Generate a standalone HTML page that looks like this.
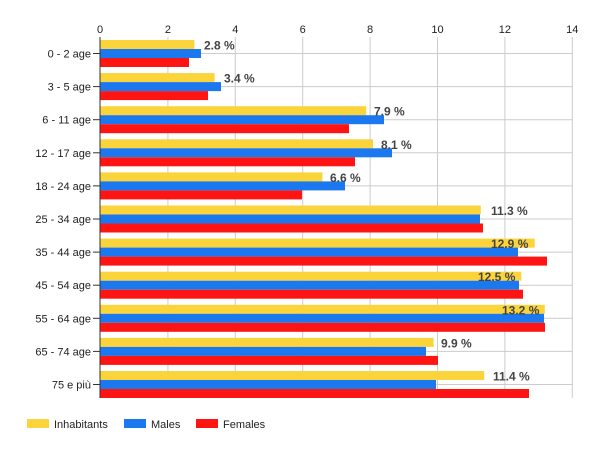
<!DOCTYPE html>
<html><head><meta charset="utf-8"><style>
html,body{margin:0;padding:0;background:#fff;}
svg{display:block;font-family:"Liberation Sans",Arial,sans-serif;}
</style></head><body>
<svg width="600" height="450" viewBox="0 0 600 450">
<g stroke="#cccccc" stroke-width="1">
<line x1="167.9" y1="37" x2="167.9" y2="398"/>
<line x1="235.3" y1="37" x2="235.3" y2="398"/>
<line x1="302.7" y1="37" x2="302.7" y2="398"/>
<line x1="370.1" y1="37" x2="370.1" y2="398"/>
<line x1="437.5" y1="37" x2="437.5" y2="398"/>
<line x1="504.9" y1="37" x2="504.9" y2="398"/>
<line x1="572.3" y1="37" x2="572.3" y2="398"/>
<line x1="100" y1="53.5" x2="572" y2="53.5"/>
<line x1="100" y1="86.6" x2="572" y2="86.6"/>
<line x1="100" y1="119.7" x2="572" y2="119.7"/>
<line x1="100" y1="152.8" x2="572" y2="152.8"/>
<line x1="100" y1="185.9" x2="572" y2="185.9"/>
<line x1="100" y1="219" x2="572" y2="219"/>
<line x1="100" y1="252.1" x2="572" y2="252.1"/>
<line x1="100" y1="285.2" x2="572" y2="285.2"/>
<line x1="100" y1="318.3" x2="572" y2="318.3"/>
<line x1="100" y1="351.4" x2="572" y2="351.4"/>
<line x1="100" y1="384.5" x2="572" y2="384.5"/>
</g>
<g>
<!-- y = cy-13.5, cy-4.5, cy+4.5 -->
<rect x="100" y="40" width="94.4" height="9" fill="#fbd33a"/><rect x="100" y="49" width="101" height="9" fill="#1b78ee"/><rect x="100" y="58" width="89" height="9" fill="#ff1414"/>
<rect x="100" y="73.1" width="114.6" height="9" fill="#fbd33a"/><rect x="100" y="82.1" width="121" height="9" fill="#1b78ee"/><rect x="100" y="91.1" width="108" height="9" fill="#ff1414"/>
<rect x="100" y="106.2" width="266.2" height="9" fill="#fbd33a"/><rect x="100" y="115.2" width="284" height="9" fill="#1b78ee"/><rect x="100" y="124.2" width="249" height="9" fill="#ff1414"/>
<rect x="100" y="139.3" width="273" height="9" fill="#fbd33a"/><rect x="100" y="148.3" width="292" height="9" fill="#1b78ee"/><rect x="100" y="157.3" width="255" height="9" fill="#ff1414"/>
<rect x="100" y="172.4" width="222.4" height="9" fill="#fbd33a"/><rect x="100" y="181.4" width="245" height="9" fill="#1b78ee"/><rect x="100" y="190.4" width="202" height="9" fill="#ff1414"/>
<rect x="100" y="205.5" width="380.8" height="9" fill="#fbd33a"/><rect x="100" y="214.5" width="380" height="9" fill="#1b78ee"/><rect x="100" y="223.5" width="383" height="9" fill="#ff1414"/>
<rect x="100" y="238.6" width="434.7" height="9" fill="#fbd33a"/><rect x="100" y="247.6" width="418" height="9" fill="#1b78ee"/><rect x="100" y="256.6" width="447" height="9" fill="#ff1414"/>
<rect x="100" y="271.7" width="421.3" height="9" fill="#fbd33a"/><rect x="100" y="280.7" width="419" height="9" fill="#1b78ee"/><rect x="100" y="289.7" width="423" height="9" fill="#ff1414"/>
<rect x="100" y="304.8" width="444.8" height="9" fill="#fbd33a"/><rect x="100" y="313.8" width="444" height="9" fill="#1b78ee"/><rect x="100" y="322.8" width="445" height="9" fill="#ff1414"/>
<rect x="100" y="337.9" width="333.6" height="9" fill="#fbd33a"/><rect x="100" y="346.9" width="326" height="9" fill="#1b78ee"/><rect x="100" y="355.9" width="338" height="9" fill="#ff1414"/>
<rect x="100" y="371" width="384.2" height="9" fill="#fbd33a"/><rect x="100" y="380" width="336" height="9" fill="#1b78ee"/><rect x="100" y="389" width="429" height="9" fill="#ff1414"/>
</g>
<line x1="100" y1="37" x2="100" y2="398" stroke="#333" stroke-width="1"/>
<g stroke="#333" stroke-width="1">
<line x1="93" y1="53.5" x2="100" y2="53.5"/><line x1="93" y1="86.6" x2="100" y2="86.6"/><line x1="93" y1="119.7" x2="100" y2="119.7"/><line x1="93" y1="152.8" x2="100" y2="152.8"/><line x1="93" y1="185.9" x2="100" y2="185.9"/><line x1="93" y1="219" x2="100" y2="219"/><line x1="93" y1="252.1" x2="100" y2="252.1"/><line x1="93" y1="285.2" x2="100" y2="285.2"/><line x1="93" y1="318.3" x2="100" y2="318.3"/><line x1="93" y1="351.4" x2="100" y2="351.4"/><line x1="93" y1="384.5" x2="100" y2="384.5"/>
</g>
<g font-size="11" fill="#222" text-anchor="end">
<text x="91" y="57.5">0 - 2 age</text><text x="91" y="90.6">3 - 5 age</text><text x="91" y="123.7">6 - 11 age</text><text x="91" y="156.8">12 - 17 age</text><text x="91" y="189.9">18 - 24 age</text><text x="91" y="223">25 - 34 age</text><text x="91" y="256.1">35 - 44 age</text><text x="91" y="289.2">45 - 54 age</text><text x="91" y="322.3">55 - 64 age</text><text x="91" y="355.4">65 - 74 age</text><text x="91" y="388.5">75 e più</text>
</g>
<g font-size="11" fill="#222" text-anchor="middle">
<text x="100" y="33">0</text><text x="167.9" y="33">2</text><text x="235.3" y="33">4</text><text x="302.7" y="33">6</text><text x="370.1" y="33">8</text><text x="437.5" y="33">10</text><text x="504.9" y="33">12</text><text x="572.3" y="33">14</text>
</g>
<g font-size="12" font-weight="bold" fill="#444">
<text x="204" y="49.5">2.8 %</text><text x="224" y="82.6">3.4 %</text><text x="374" y="115.7">7.9 %</text><text x="381" y="148.8">8.1 %</text><text x="330" y="181.9">6.6 %</text><text x="491" y="215">11.3 %</text><text x="491" y="248.1">12.9 %</text><text x="478" y="281.2">12.5 %</text><text x="502" y="314.3">13.2 %</text><text x="441" y="347.4">9.9 %</text><text x="493" y="380.5">11.4 %</text>
</g>
<g font-size="11" fill="#222">
<rect x="27" y="419" width="22" height="9" fill="#fbd33a"/><text x="54" y="428">Inhabitants</text>
<rect x="124" y="419" width="22" height="9" fill="#1b78ee"/><text x="151" y="428">Males</text>
<rect x="196" y="419" width="22" height="9" fill="#ff1414"/><text x="223" y="428">Females</text>
</g>
</svg>
</body></html>
